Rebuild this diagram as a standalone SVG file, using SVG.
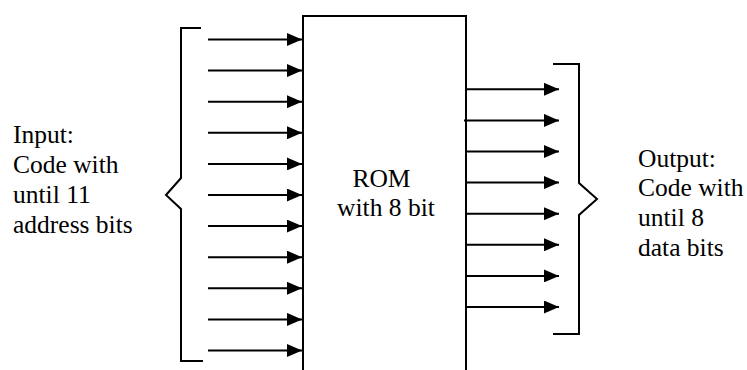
<svg xmlns="http://www.w3.org/2000/svg" width="747" height="370" viewBox="0 0 747 370">
<style>
.ln{stroke:#000;stroke-width:2;fill:none}
.t{font-family:"Liberation Serif","Times New Roman","DejaVu Serif",serif;font-size:25.5px;fill:#000}
</style>
<defs>
<marker id="ah" viewBox="0 0 15 13" refX="15" refY="6.5" markerWidth="15" markerHeight="13" markerUnits="userSpaceOnUse" orient="auto">
<path d="M0,0 L15,6.5 L0,13 Z" fill="#000"/>
</marker>
</defs>
<rect width="747" height="370" fill="#fff"/>
<g id="rom">
<path class="ln" d="M303,372 V16 H466 V372"/>
<text class="t" x="381.5" y="186.7" text-anchor="middle">ROM</text>
<text class="t" x="386" y="216" text-anchor="middle">with 8 bit</text>
</g>
<g id="input">
<path class="ln" d="M201,28 H181 V178 L166,195 L181,209 V361 H203"/>
<text class="t" x="13" y="143.3">Input:</text>
<text class="t" x="13" y="173">Code with</text>
<text class="t" x="13" y="202.8">until 11</text>
<text class="t" x="13" y="232.6">address bits</text>
</g>
<g id="output">
<path class="ln" d="M553,64 H579 V183 L597,199 L579,215 V334 H553"/>
<text class="t" x="638" y="166.7">Output:</text>
<text class="t" x="638" y="196.4">Code with</text>
<text class="t" x="638" y="226.1">until 8</text>
<text class="t" x="638" y="255.8">data bits</text>
</g>
<g id="connectors">
<g class="ln" marker-end="url(#ah)">
<line x1="208" y1="39.5" x2="302" y2="39.5"/>
<line x1="208" y1="70.6" x2="302" y2="70.6"/>
<line x1="208" y1="101.7" x2="302" y2="101.7"/>
<line x1="208" y1="132.8" x2="302" y2="132.8"/>
<line x1="208" y1="163.9" x2="302" y2="163.9"/>
<line x1="208" y1="195" x2="302" y2="195"/>
<line x1="208" y1="226.1" x2="302" y2="226.1"/>
<line x1="208" y1="257.2" x2="302" y2="257.2"/>
<line x1="208" y1="288.3" x2="302" y2="288.3"/>
<line x1="208" y1="319.4" x2="302" y2="319.4"/>
<line x1="208" y1="350.5" x2="302" y2="350.5"/>
<line x1="466" y1="89.3" x2="559" y2="89.3"/>
<line x1="464" y1="120.4" x2="559" y2="120.4"/>
<line x1="466" y1="151.5" x2="559" y2="151.5"/>
<line x1="466" y1="182.6" x2="559" y2="182.6"/>
<line x1="466" y1="213.7" x2="559" y2="213.7"/>
<line x1="466" y1="244.8" x2="559" y2="244.8"/>
<line x1="466" y1="275.9" x2="559" y2="275.9"/>
<line x1="466" y1="307" x2="559" y2="307"/>
</g>
</g>
</svg>
